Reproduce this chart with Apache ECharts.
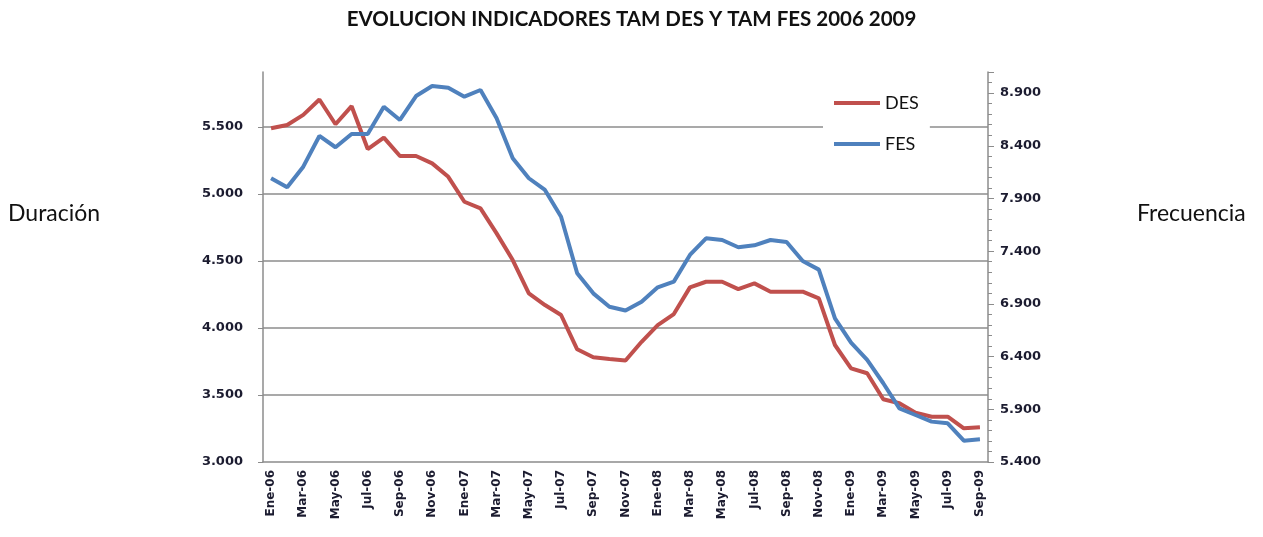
<!DOCTYPE html>
<html>
<head>
<meta charset="utf-8">
<script src="https://cdn.jsdelivr.net/npm/echarts@6/dist/echarts.min.js"></script>
<style>html,body{margin:0;padding:0;background:#fff}#c{width:1263px;height:537px}</style>
</head>
<body>
<div id="c"></div>
<script>
const months = ['Ene','Feb','Mar','Abr','May','Jun','Jul','Ago','Sep','Oct','Nov','Dic'];
const years = ['06','07','08','09'];
const categories = [];
for (const y of years) for (const m of months) categories.push(m + '-' + y);
categories.length = 45; // Ene-06 .. Sep-09

const desValues = [5490, 5515, 5590, 5705, 5520, 5655, 5335, 5420, 5283, 5283,
  5228, 5128, 4942, 4892, 4706, 4507, 4258, 4171, 4097, 3841,
  3781, 3768, 3757, 3897, 4022, 4104, 4303, 4345, 4345, 4290,
  4333, 4271, 4271, 4271, 4221, 3873, 3699, 3662, 3468, 3438,
  3368, 3338, 3338, 3251, 3259];
const fesValues = [8092, 8006, 8202, 8493, 8386, 8512, 8512, 8771, 8645, 8872,
  8967, 8951, 8866, 8929, 8661, 8281, 8092, 7981, 7727, 7190,
  7000, 6873, 6838, 6921, 7057, 7111, 7364, 7522, 7506, 7437,
  7456, 7506, 7487, 7307, 7225, 6763, 6532, 6368, 6147, 5909,
  5846, 5783, 5767, 5602, 5615];
const titleText = 'EVOLUCION INDICADORES TAM DES Y TAM FES 2006 2009';

const fmt = v => {
  const s = Math.round(v).toString();
  return s.length > 3 ? s.slice(0, s.length - 3) + '.' + s.slice(-3) : s;
};

const chart = echarts.init(document.getElementById('c'), null, {renderer: 'canvas'});
const yLabelFont = {fontFamily: 'DejaVu Sans', fontSize: 13, fontWeight: 'bold', color: '#1c1c30'};
const xLabelFont = {fontFamily: 'DejaVu Sans', fontSize: 12, fontWeight: 'bold', color: '#1c1c30'};
chart.setOption({
  animation: false,
  backgroundColor: '#fff',
  title: {
    text: titleText,
    left: 'center',
    top: 4,
    textStyle: {fontFamily: 'Lato', fontWeight: 'bold', fontSize: 20.5, color: '#111'}
  },
  graphic: [
    {type: 'text', left: 8, top: 202, style: {text: 'Duración', font: '23px Lato', fill: '#111'}},
    {type: 'text', left: 1137, top: 202, style: {text: 'Frecuencia', font: '23px Lato', fill: '#111'}}
  ],
  legend: {
    orient: 'vertical',
    left: 823,
    top: 88,
    backgroundColor: '#fff',
    padding: [6, 11, 10, 11],
    itemGap: 23,
    itemWidth: 46,
    itemHeight: 4,
    icon: 'rect',
    textStyle: {fontFamily: 'Lato', fontSize: 18, color: '#111'},
    data: ['DES', 'FES']
  },
  grid: {left: 263, right: 275, top: 72, bottom: 75},
  xAxis: {
    type: 'category',
    data: categories,
    boundaryGap: true,
    axisLine: {lineStyle: {color: '#8c8c8c', width: 1.5}},
    axisTick: {show: false},
    axisLabel: Object.assign({interval: 1, rotate: 90, margin: 8}, xLabelFont)
  },
  yAxis: [
    {
      type: 'value', min: 3000, max: 5910, interval: 500, position: 'left',
      axisLine: {show: true, lineStyle: {color: '#8c8c8c', width: 1.5}},
      axisTick: {show: true, length: 5, lineStyle: {color: '#8c8c8c'}},
      axisLabel: Object.assign({formatter: fmt, margin: 20, showMaxLabel: false}, yLabelFont),
      splitLine: {show: true, showMinLine: false, showMaxLine: false, lineStyle: {color: '#8c8c8c', width: 1.5}}
    },
    {
      type: 'value', min: 5400, max: 9100, interval: 500, position: 'right',
      axisLine: {show: true, lineStyle: {color: '#8c8c8c', width: 1.5}},
      axisTick: {show: true, length: 6, lineStyle: {color: '#8c8c8c'}},
      minorTick: {show: true, splitNumber: 5, length: 4, lineStyle: {color: '#8c8c8c'}},
      axisLabel: Object.assign({formatter: fmt, margin: 12, showMaxLabel: false}, yLabelFont),
      splitLine: {show: false}
    }
  ],
  series: [
    {name: 'DES', type: 'line', yAxisIndex: 0, data: desValues, symbol: 'none',
     lineStyle: {width: 4, color: '#C0504D'}, itemStyle: {color: '#C0504D'}},
    {name: 'FES', type: 'line', yAxisIndex: 1, data: fesValues, symbol: 'none',
     lineStyle: {width: 4, color: '#4F81BD'}, itemStyle: {color: '#4F81BD'}}
  ]
});
</script>
</body>
</html>
